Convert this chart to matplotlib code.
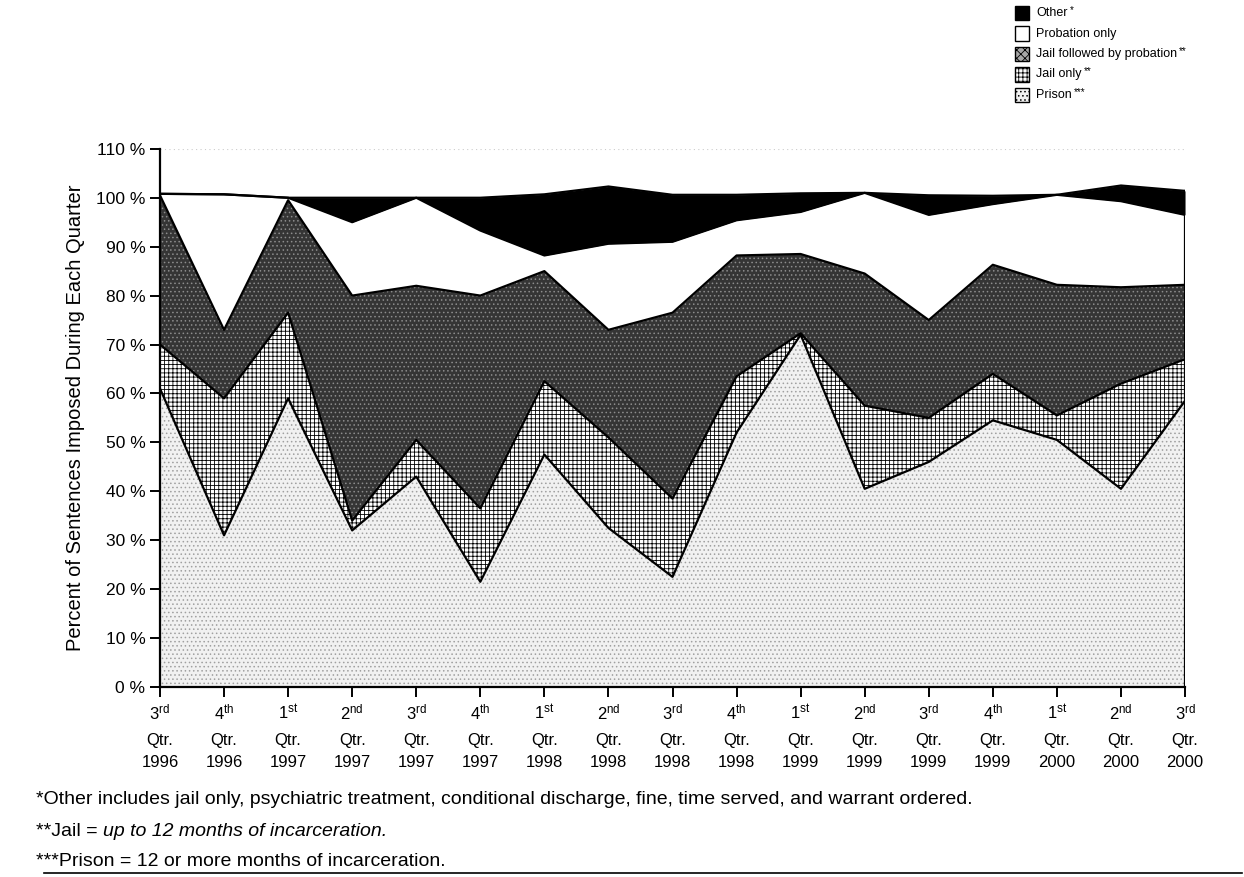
import numpy as np
import matplotlib.pyplot as plt
from matplotlib.patches import Rectangle

plt.rcParams['font.family'] = ['Liberation Sans', 'DejaVu Sans']
plt.rcParams['mathtext.default'] = 'regular'
plt.rcParams['hatch.linewidth'] = 0.6

quarters = ['3rd', '4th', '1st', '2nd', '3rd', '4th', '1st', '2nd', '3rd',
            '4th', '1st', '2nd', '3rd', '4th', '1st', '2nd', '3rd']
years = ['1996', '1996', '1997', '1997', '1997', '1997', '1998', '1998', '1998',
         '1998', '1999', '1999', '1999', '1999', '2000', '2000', '2000']

# percent of sentences (bottom to top)
prison = [61, 31, 59, 32, 43, 21.5, 47.5, 32.5, 22.5, 52, 72, 40.5, 46, 54.5, 50.5, 40.5, 58.5]
jail_only = [9, 28, 17.5, 2, 7.5, 15, 15, 18.5, 16, 11.5, 0.3, 17, 9, 9.5, 5, 21.5, 8.5]
jail_prob = [30.5, 14, 23, 46, 31.5, 43.5, 22.5, 22, 38, 24.7, 16.2, 27, 20, 22.3, 26.7, 19.7, 15.2]
probation = [0.3, 27.7, 0.5, 15, 18, 13.3, 3.2, 17.6, 14.5, 7.2, 8.6, 16.5, 21.5, 12.4, 18.4, 17.6, 14.3]
other = [0, 0, 0, 5, 0, 6.7, 12.5, 11.7, 9.6, 5.2, 3.8, 0, 4, 1.7, 0, 3.2, 4.9]

layers = [prison, jail_only, jail_prob, probation, other]
names = ['Prison', 'Jail only', 'Jail followed by probation', 'Probation only', 'Other']
stars = ['***', '**', '**', '', '*']
faces = ['#f1f1f1', 'white', '#353535', 'white', 'black']
hatch_cols = ['#a0a0a0', 'black', '#8c8c8c', 'white', 'black']
hatches = ['....', '++++', '....', None, None]

fig = plt.figure(figsize=(12.44, 8.77), dpi=100)
ax = fig.add_axes([0.1286, 0.2167, 0.824, 0.6136])

x = np.arange(len(quarters))
base = np.zeros(len(x))
for vals, face, hc, h in zip(layers, faces, hatch_cols, hatches):
    top = base + np.array(vals)
    ax.fill_between(x, base, top, facecolor=face, edgecolor=hc, hatch=h, linewidth=0)
    base = top

# outlines of the bands
base = np.zeros(len(x))
for vals in layers:
    base = base + np.array(vals)
    ax.plot(x, base, color='black', lw=1.6)
ax.plot([x[-1], x[-1]], [0, base[-1]], color='black', lw=1.6)

ax.set_xlim(0, len(x) - 1)
ax.set_ylim(0, 110)
ax.set_yticks(range(0, 111, 10))
ax.set_yticklabels([f'{v} %' for v in range(0, 111, 10)], fontsize=12.5)
ax.set_xticks(x)
ax.set_xticklabels([])
tr = ax.get_xaxis_transform()
for xi, q, y in zip(x, quarters, years):
    ax.text(xi, -0.047, f'{q[0]}$^{{{q[1:]}}}$', transform=tr, ha='center', va='center', fontsize=12)
    ax.text(xi, -0.099, 'Qtr.', transform=tr, ha='center', va='center', fontsize=12)
    ax.text(xi, -0.141, y, transform=tr, ha='center', va='center', fontsize=12)
ax.set_ylabel('Percent of Sentences Imposed During Each Quarter', fontsize=14.5, labelpad=8)
ax.spines['top'].set_visible(False)
ax.spines['right'].set_visible(False)
ax.spines['left'].set_linewidth(1.6)
ax.spines['bottom'].set_linewidth(1.6)
ax.tick_params(axis='both', direction='out', length=7, width=1.4)
ax.axhline(110, color='#cccccc', lw=0.8, ls=(0, (1, 3)))

# legend, drawn by hand (top entry = Other)
W, H = 1244, 877
fig.canvas.draw()
for row, i in enumerate([4, 3, 2, 1, 0]):
    yc = 13 + row * 20.5
    face, h = faces[i], hatches[i]
    if i == 2:
        face, h = '#a8a8a8', 'xxxx'
    fig.add_artist(Rectangle((1015 / W, 1 - (yc + 7) / H), 14 / W, 14 / H, transform=fig.transFigure,
                             facecolor=face, edgecolor='black', hatch=h, linewidth=1.0))
    t = fig.text(1036 / W, 1 - yc / H, names[i], fontsize=9, va='center')
    if stars[i]:
        bb = t.get_window_extent()
        fig.text((bb.x1 + 2) / W, 1 - (yc - 3) / H, stars[i], fontsize=7, va='center')

fig.text(0.029, 0.088, '*Other includes jail only, psychiatric treatment, conditional discharge, '
         'fine, time served, and warrant ordered.', fontsize=14, va='center')
t = fig.text(0.029, 0.052, '**Jail = ', fontsize=14, va='center')
bb = t.get_window_extent()
fig.text(bb.x1 / W, 0.052, 'up to 12 months of incarceration.', fontsize=14, va='center', style='italic')
fig.text(0.029, 0.018, '***Prison = 12 or more months of incarceration.', fontsize=14, va='center')
fig.add_artist(plt.Line2D([0.035, 0.998], [0.004, 0.004], color='black', lw=1.2))

fig.savefig('out.png', dpi=100)
